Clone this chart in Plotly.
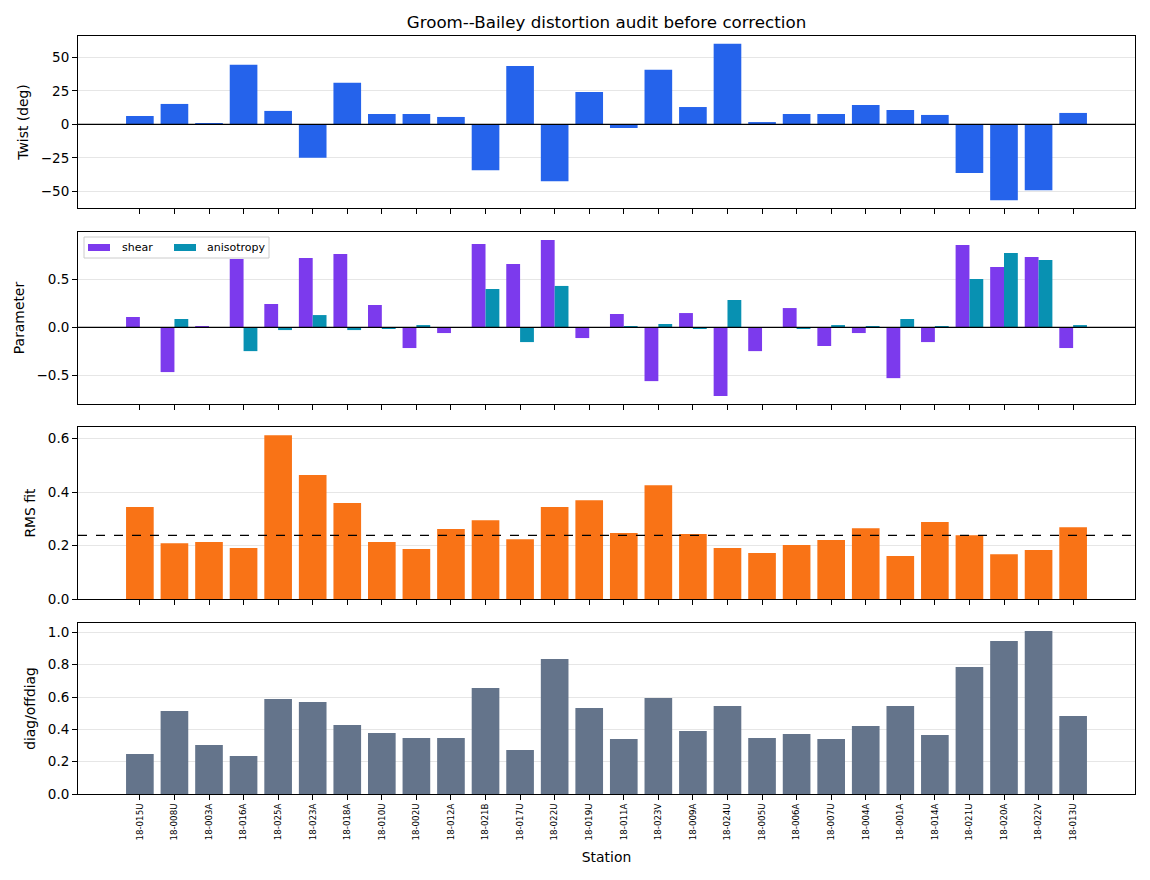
import plotly.graph_objects as go

stations = ["18-015U", "18-008U", "18-003A", "18-016A", "18-025A", "18-023A", "18-018A",
            "18-010U", "18-002U", "18-012A", "18-021B", "18-017U", "18-022U", "18-019U",
            "18-011A", "18-023V", "18-009A", "18-024U", "18-005U", "18-006A", "18-007U",
            "18-004A", "18-001A", "18-014A", "18-021U", "18-020A", "18-022V", "18-013U"]

twist = [6.2, 15.2, 1.0, 44.3, 10.0, -24.9, 30.9, 7.7, 7.7, 5.5, -34.1, 43.5, -42.3, 24.1,
         -2.7, 40.6, 12.9, 60.0, 1.7, 7.7, 7.7, 14.4, 10.7, 7.0, -36.3, -56.5, -49.0, 8.5]

shear = [0.108, -0.465, 0.014, 0.71, 0.243, 0.722, 0.764, 0.233, -0.215, -0.059, 0.868, 0.660,
         0.910, -0.111, 0.139, -0.559, 0.149, -0.715, -0.247, 0.201, -0.194, -0.059, -0.528,
         -0.153, 0.858, 0.628, 0.733, -0.215]

anisotropy = [0.003, 0.087, 0.002, -0.247, -0.028, 0.128, -0.028, -0.014, 0.024, 0.002, 0.399,
              -0.153, 0.431, 0.002, 0.014, 0.035, -0.017, 0.285, 0.002, -0.017, 0.024, 0.014,
              0.087, 0.014, 0.503, 0.774, 0.701, 0.024]

rms = [0.344, 0.209, 0.213, 0.191, 0.613, 0.464, 0.359, 0.213, 0.187, 0.262, 0.295, 0.224,
       0.344, 0.370, 0.247, 0.426, 0.243, 0.191, 0.172, 0.202, 0.221, 0.265, 0.161, 0.288,
       0.239, 0.168, 0.183, 0.269]
rms_ref = 0.238

diag_offdiag = [0.247, 0.513, 0.303, 0.235, 0.588, 0.569, 0.427, 0.377, 0.346, 0.346, 0.656,
                0.272, 0.835, 0.532, 0.340, 0.594, 0.390, 0.544, 0.346, 0.371, 0.340, 0.421,
                0.544, 0.365, 0.786, 0.946, 1.008, 0.482]

legend_names = ["shear", "anisotropy"]

C_TWIST = "#2563eb"
C_SHEAR = "#7c3aed"
C_ANISO = "#0891b2"
C_RMS = "#f97316"
C_DIAG = "#64748b"

idx = list(range(len(stations)))
n = len(stations)
xr = [-0.4 - 0.05 * (n - 0.2), n - 1 + 0.4 + 0.05 * (n - 0.2)]

fig = go.Figure()
fig.add_trace(go.Bar(x=idx, y=twist, width=0.8, marker=dict(color=C_TWIST, line_width=0),
                     showlegend=False, xaxis="x", yaxis="y"))
fig.add_trace(go.Bar(x=idx, y=shear, width=0.4, offset=-0.4, name=legend_names[0],
                     marker=dict(color=C_SHEAR, line_width=0), showlegend=False,
                     xaxis="x2", yaxis="y2"))
fig.add_trace(go.Bar(x=idx, y=anisotropy, width=0.4, offset=0.0, name=legend_names[1],
                     marker=dict(color=C_ANISO, line_width=0), showlegend=False,
                     xaxis="x2", yaxis="y2"))
fig.add_trace(go.Bar(x=idx, y=rms, width=0.8, marker=dict(color=C_RMS, line_width=0),
                     showlegend=False, xaxis="x3", yaxis="y3"))
fig.add_trace(go.Bar(x=idx, y=diag_offdiag, width=0.8, marker=dict(color=C_DIAG, line_width=0),
                     showlegend=False, xaxis="x4", yaxis="y4"))

H = 880
L, R = 78, 1135
top_px, bot_px = 36, 794
span = bot_px - top_px
def dom(a, b):
    return [(bot_px - b) / span, (bot_px - a) / span]
def px_x(p):
    return (p - L) / (R - L)
def px_y(p):
    return (bot_px - p) / span

panels = [(36, 208), (232, 404), (427, 599), (623, 794)]
font = "DejaVu Sans, Arial, sans-serif"

axcommon = dict(showline=True, mirror=True, linecolor="black", linewidth=1,
                ticks="outside", ticklen=5, tickcolor="black", tickwidth=1,
                zeroline=False)

layout = dict(
    width=1150, height=880,
    margin=dict(l=L, r=1150 - R, t=top_px, b=H - bot_px),
    paper_bgcolor="white", plot_bgcolor="white",
    barmode="overlay",
    showlegend=False,
    font=dict(family=font, size=13.5, color="black"),
    title=dict(text="Groom--Bailey distortion audit before correction", x=0.5, xref="paper",
               y=1 - 22 / H, yanchor="middle", font=dict(size=16.7)),
    shapes=[],
    annotations=[],
)

ylabels = ["Twist (deg)", "Parameter", "RMS fit", "diag/offdiag"]
yticks = [
    dict(tickvals=[-50, -25, 0, 25, 50], range=[-62.3, 65.8]),
    dict(tickvals=[-0.5, 0, 0.5], tickformat=".1f", range=[-0.797, 0.992]),
    dict(tickvals=[0, 0.2, 0.4, 0.6], tickformat=".1f", range=[0, 0.644]),
    dict(tickvals=[0, 0.2, 0.4, 0.6, 0.8, 1.0], tickformat=".1f", range=[0, 1.058]),
]

for k in range(4):
    sx = "" if k == 0 else str(k + 1)
    xa = dict(axcommon, domain=[0, 1], range=xr, tickvals=idx, ticktext=stations,
              showgrid=False, anchor="y" + sx)
    if k < 3:
        xa["showticklabels"] = False
        xa["matches"] = "x4"
    else:
        xa.update(tickangle=-90, tickfont=dict(size=8.7),
                  title=dict(text="Station", font=dict(size=13.9), standoff=12))
    layout["xaxis" + sx] = xa
    ya = dict(axcommon, domain=dom(*panels[k]), anchor="x" + sx, showgrid=True,
              gridcolor="#e6e6e6", gridwidth=1,
              title=dict(text=ylabels[k], font=dict(size=13.9), standoff=8), **yticks[k])
    layout["yaxis" + sx] = ya

for k in (0, 1):
    sx = "" if k == 0 else str(k + 1)
    layout["shapes"].append(dict(type="line", xref="x" + sx + " domain", x0=0, x1=1,
                                 yref="y" + sx, y0=0, y1=0,
                                 line=dict(color="black", width=1.1), layer="above"))
layout["shapes"].append(dict(type="line", xref="x3 domain", x0=0, x1=1, yref="y3",
                             y0=rms_ref, y1=rms_ref,
                             line=dict(color="black", width=1.2, dash="dash"), layer="above"))

# custom compact legend (matplotlib-style) in the Parameter panel
layout["shapes"].append(dict(type="rect", xref="paper", yref="paper",
                             x0=px_x(84), x1=px_x(269), y0=px_y(258), y1=px_y(237),
                             fillcolor="rgba(255,255,255,0.8)",
                             line=dict(color="#cccccc", width=1), layer="above"))
patches = [(88, 110, C_SHEAR, 120), (174, 196, C_ANISO, 205)]
for (a, b, col, tx), name in zip(patches, legend_names):
    layout["shapes"].append(dict(type="rect", xref="paper", yref="paper",
                                 x0=px_x(a), x1=px_x(b), y0=px_y(251), y1=px_y(244),
                                 fillcolor=col, line=dict(width=0), layer="above"))
    layout["annotations"].append(dict(text=name, xref="paper", yref="paper",
                                      x=px_x(tx), y=px_y(247.5), xanchor="left",
                                      yanchor="middle", showarrow=False,
                                      font=dict(size=11, color="black")))

fig.update_layout(**layout)
fig.write_html("out.html")
